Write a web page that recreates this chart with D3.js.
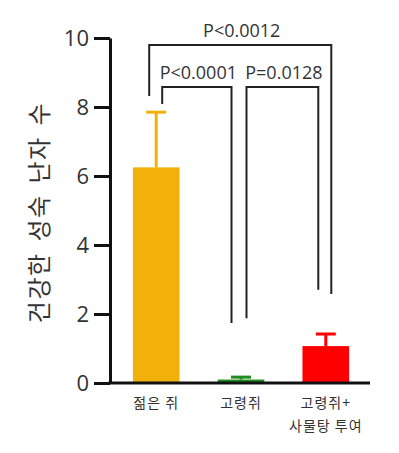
<!DOCTYPE html>
<html>
<head>
<meta charset="utf-8">
<script src="https://cdn.jsdelivr.net/npm/d3@7"></script>
<style>
  html, body { margin: 0; padding: 0; background: #fff; }
  svg { display: block; }
</style>
</head>
<body>
<div id="chart"></div>
<script>
// values
const groups = ["젊은 쥐", "고령쥐", "고령쥐+\n사물탕 투여"];
const means = [6.25, 0.1, 1.07];
const errors = [1.6, 0.07, 0.35];
const barColors = ["#F2B00A", "#1E8C1E", "#FF0000"];
const yTicks = [0, 2, 4, 6, 8, 10];

// significance brackets: groups compared, label, top / left foot / right foot (data units)
const bracketPairs = [[0, 1], [1, 2], [0, 2]];
const bracketLabels = ["P<0.0001", "P=0.0128", "P<0.0012"];
const bracketTops = [8.58, 8.58, 9.8];
const bracketLeftFeet = [8.09, 1.88, 8.32];
const bracketRightFeet = [1.74, 2.7, 2.58];
const bracketOffsets = [[6, -9.5], [5.5, -7.5], [-7, 5.5]];

const width = 399, height = 453;
const margin = { top: 38, right: 29, bottom: 70, left: 110 };

const svg = d3.select("#chart").append("svg")
    .attr("width", width)
    .attr("height", height);

const x = d3.scaleBand()
    .domain(groups)
    .range([margin.left, width - margin.right + 2])
    .paddingInner(0.45)
    .paddingOuter(0.27);

const y = d3.scaleLinear()
    .domain([0, 10])
    .range([height - margin.bottom, margin.top]);

// y axis
const yAxis = svg.append("g")
    .attr("transform", `translate(${margin.left},0)`)
    .call(d3.axisLeft(y).tickValues(yTicks).tickSize(16).tickSizeOuter(0).tickPadding(5));

yAxis.select(".domain").attr("stroke", "#111").attr("stroke-width", 3);
yAxis.selectAll(".tick line").attr("stroke", "#111").attr("stroke-width", 3);
yAxis.selectAll(".tick text")
    .attr("fill", "#333")
    .style("font-family", "'Open Sans', 'Noto Sans', sans-serif")
    .style("font-size", "22px");

// bars
svg.selectAll(".bar")
    .data(groups)
    .join("rect")
    .attr("class", "bar")
    .attr("x", d => x(d))
    .attr("width", x.bandwidth())
    .attr("y", (d, i) => y(means[i]))
    .attr("height", (d, i) => y(0) - y(means[i]))
    .attr("fill", (d, i) => barColors[i]);

// error bars (upper only)
const capW = 20;
const errG = svg.selectAll(".err")
    .data(groups)
    .join("g")
    .attr("class", "err")
    .attr("stroke", (d, i) => barColors[i])
    .attr("stroke-width", 3);

errG.append("line")
    .attr("x1", d => x(d) + x.bandwidth() / 2)
    .attr("x2", d => x(d) + x.bandwidth() / 2)
    .attr("y1", (d, i) => y(means[i]))
    .attr("y2", (d, i) => y(means[i] + errors[i]));

errG.append("line")
    .attr("x1", d => x(d) + x.bandwidth() / 2 - capW / 2)
    .attr("x2", d => x(d) + x.bandwidth() / 2 + capW / 2)
    .attr("y1", (d, i) => y(means[i] + errors[i]))
    .attr("y2", (d, i) => y(means[i] + errors[i]));

// x axis line
svg.append("line")
    .attr("x1", margin.left - 1.5)
    .attr("x2", width - margin.right)
    .attr("y1", y(0))
    .attr("y2", y(0))
    .attr("stroke", "#111")
    .attr("stroke-width", 3);

// category labels
const catLabels = svg.selectAll(".cat")
    .data(groups)
    .join("text")
    .attr("class", "cat")
    .attr("text-anchor", "middle")
    .attr("fill", "#333")
    .style("font-family", "'Noto Sans CJK KR', sans-serif")
    .style("font-size", "14px")
    .style("letter-spacing", "1px");

catLabels.selectAll("tspan")
    .data(d => d.split("\n").map(t => ({ t, g: d })))
    .join("tspan")
    .attr("x", d => x(d.g) + x.bandwidth() / 2)
    .attr("y", (d, i) => y(0) + 25 + i * 23)
    .text(d => d.t);

// y axis title
svg.append("text")
    .attr("transform", `translate(37,${(y(0) + y(10)) / 2 + 2}) rotate(-90)`)
    .attr("text-anchor", "middle")
    .attr("dominant-baseline", "central")
    .attr("fill", "#333")
    .style("font-family", "'Noto Sans CJK KR', sans-serif")
    .style("font-size", "24px")
    .style("letter-spacing", "1.5px")
    .style("word-spacing", "4px")
    .text("건강한 성숙 난자 수");

// brackets
const cx = i => x(groups[i]) + x.bandwidth() / 2;

bracketPairs.forEach((p, k) => {
    const x1 = cx(p[0]) + bracketOffsets[k][0];
    const x2 = cx(p[1]) + bracketOffsets[k][1];
    const yt = y(bracketTops[k]);
    svg.append("path")
        .attr("d", `M${x1},${y(bracketLeftFeet[k])}V${yt}H${x2}V${y(bracketRightFeet[k])}`)
        .attr("fill", "none")
        .attr("stroke", "#222")
        .attr("stroke-width", 2);
    svg.append("text")
        .attr("x", (x1 + x2) / 2 + 1.5)
        .attr("y", yt - 8)
        .attr("text-anchor", "middle")
        .attr("fill", "#333")
        .style("font-family", "'Open Sans', 'Noto Sans', sans-serif")
        .style("font-size", "18px")
        .text(bracketLabels[k]);
});
</script>
</body>
</html>
